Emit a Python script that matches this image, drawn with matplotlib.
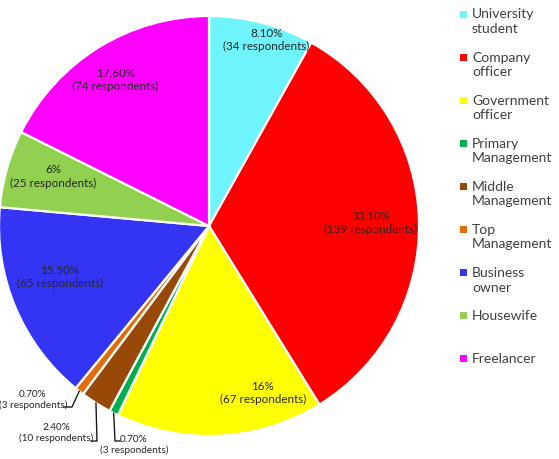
import numpy as np
import matplotlib
matplotlib.use("Agg")
from matplotlib import pyplot as plt
from matplotlib.patches import Rectangle

plt.rcParams['font.family'] = ['Lato', 'DejaVu Sans']

# data
categories = ['University\nstudent', 'Company\nofficer', 'Government\nofficer',
              'Primary\nManagement', 'Middle\nManagement', 'Top\nManagement',
              'Business\nowner', 'Housewife', 'Freelancer']
respondents = [34, 139, 67, 3, 10, 3, 65, 25, 74]
pct_labels = ['8.10%', '33.10%', '16%', '0.70%', '2.40%', '0.70%', '15.50%', '6%', '17.60%']
colors = ['#6ff4fb', '#ff0000', '#ffff00', '#00b050', '#984807',
          '#e46c0a', '#3434f4', '#92d050', '#ff00ff']

# layout (pixels, y from bottom)
W, H = 559, 460
cx, cy, R = 209, 233, 210
explode = [0, 0.03, 0, 0, 0, 0, 0, 0, 0]
# inside label placement: (radius fraction, angle in degrees) or None for outside
inside = [(0.93, 73), (0.77, 1.5), (0.83, -72), None, None, None,
          (0.75, 198.5), (0.78, 162), (0.83, 122.5)]
# outside labels: text centre and leader elbow/end points
outside = {
    5: dict(text=(33, 60), path=[(72, 52), (64, 52)]),
    4: dict(text=(56, 27), path=[(97, 18), (91, 18)]),
    3: dict(text=(134, 15), path=[(115, 18), (120, 18)]),
}

fig = plt.figure(figsize=(W / 100, H / 100), dpi=100)
ax = fig.add_axes([0, 0, 1, 1])

wedges, _ = ax.pie(respondents, colors=colors, startangle=90, counterclock=False,
                   radius=R, center=(cx, cy), explode=explode,
                   wedgeprops={'edgecolor': 'white', 'linewidth': 1.6})
ax.set_xlim(0, W)
ax.set_ylim(0, H)
ax.set_aspect('equal')
ax.axis('off')

txt_col = '#262626'
for i, w in enumerate(wedges):
    label = pct_labels[i] + '\n(' + str(respondents[i]) + ' respondents)'
    if inside[i] is not None:
        rf, ang = inside[i]
        x = cx + rf * R * np.cos(np.radians(ang))
        y = cy + rf * R * np.sin(np.radians(ang))
        ax.text(x, y, label, ha='center', va='center', fontsize=8.4,
                color=txt_col, linespacing=1.25)
    else:
        mid = np.radians((w.theta1 + w.theta2) / 2)
        x0 = cx + R * np.cos(mid)
        y0 = cy + R * np.sin(mid)
        pts = [(x0, y0)] + outside[i]['path']
        ax.plot([p[0] for p in pts], [p[1] for p in pts], color='#1a1a1a', lw=1)
        tx, ty = outside[i]['text']
        ax.text(tx, ty, label, ha='center', va='center', fontsize=7.2,
                color=txt_col, linespacing=1.25)

# legend
leg_x, leg_top, leg_step = 460, H - 15, 43.1
for i, name in enumerate(categories):
    y = leg_top - i * leg_step
    ax.add_patch(Rectangle((leg_x, y - 3.5), 7, 7, facecolor=colors[i],
                           edgecolor='none', clip_on=False))
    ax.text(leg_x + 12, y + 6.5, name, ha='left', va='top', fontsize=10,
            color='#404040', linespacing=1.25)

fig.savefig('out.png', dpi=100)
